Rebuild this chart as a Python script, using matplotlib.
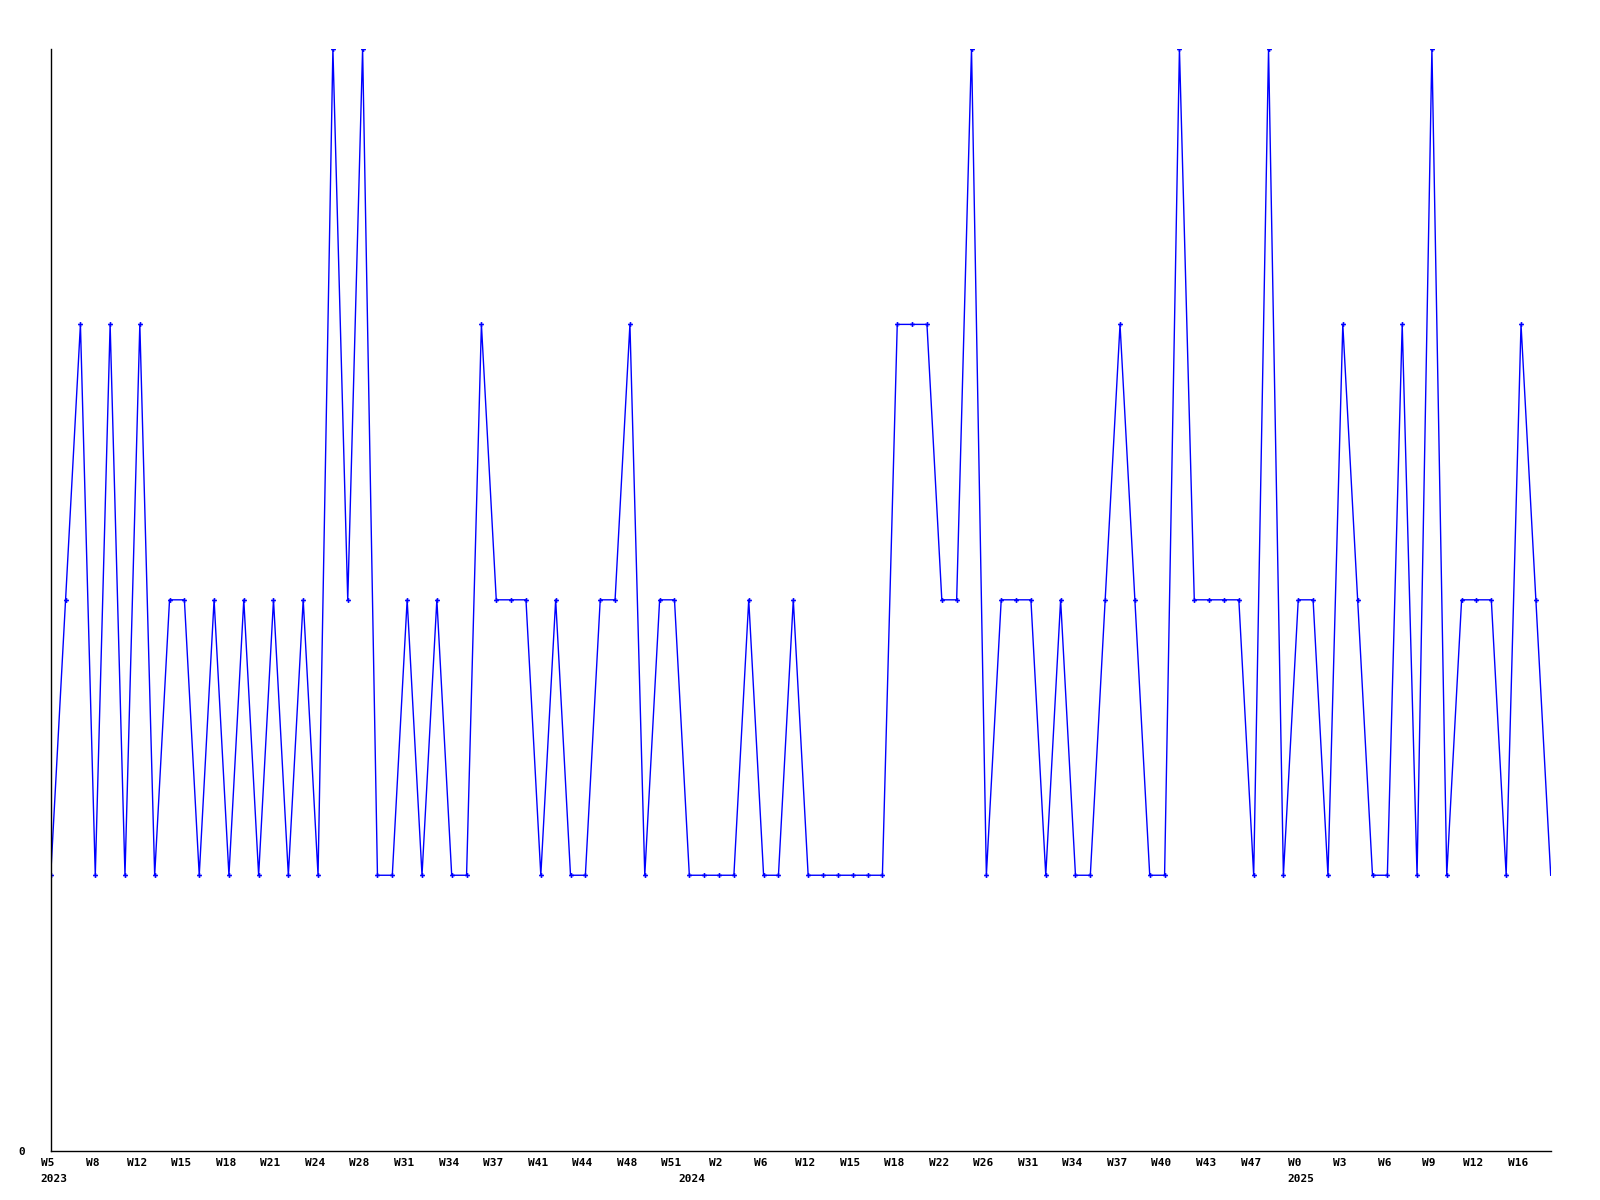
import matplotlib
matplotlib.use("Agg")
import matplotlib.pyplot as plt
from matplotlib.transforms import ScaledTranslation

values = [1, 2, 3, 1, 3, 1, 3, 1, 2, 2, 1, 2, 1, 2, 1, 2, 1, 2, 1, 4,
          2, 4, 1, 1, 2, 1, 2, 1, 1, 3, 2, 2, 2, 1, 2, 1, 1, 2, 2, 3,
          1, 2, 2, 1, 1, 1, 1, 2, 1, 1, 2, 1, 1, 1, 1, 1, 1, 3, 3, 3,
          2, 2, 4, 1, 2, 2, 2, 1, 2, 1, 1, 2, 3, 2, 1, 1, 4, 2, 2, 2,
          2, 1, 4, 1, 2, 2, 1, 3, 2, 1, 1, 3, 1, 4, 1, 2, 2, 2, 1, 3,
          2, 1]

week_labels = ["W5", "W8", "W12", "W15", "W18", "W21", "W24", "W28", "W31", "W34",
               "W37", "W41", "W44", "W48", "W51", "W2", "W6", "W12", "W15", "W18",
               "W22", "W26", "W31", "W34", "W37", "W40", "W43", "W47", "W0", "W3",
               "W6", "W9", "W12", "W16"]
year_labels = ["2023", "2024", "2025"]
year_pos = [0.2, 43.15, 84.2]

x = list(range(len(values)))
tick_pos = list(range(0, 3 * len(week_labels), 3))

fig = plt.figure(figsize=(16, 12), dpi=100)
ax = fig.add_axes([0.0317, 0.0411, 0.9375, 0.9181])

ax.plot(x, values, color="#0000ff", linewidth=1.0, marker="P", markersize=3.5,
        markeredgewidth=0, markevery=list(range(len(values) - 1)))

ax.set_xlim(0, len(values) - 1)
ax.set_ylim(0, 4)

for s in ["top", "right"]:
    ax.spines[s].set_visible(False)
for s in ["left", "bottom"]:
    ax.spines[s].set_color("black")
    ax.spines[s].set_linewidth(1.0)

font = dict(family="DejaVu Sans Mono", weight="bold", size=8)

ax.set_xticks(tick_pos)
ax.set_xticklabels(week_labels, **font)
ax.tick_params(axis="x", length=0, pad=5)
offset = ScaledTranslation(-3 / 100, 0, fig.dpi_scale_trans)
for lbl in ax.get_xticklabels():
    lbl.set_transform(lbl.get_transform() + offset)

ax.set_yticks([0])
ax.set_yticklabels(["0"], **font)
ax.tick_params(axis="y", length=0, pad=20.7)
for lbl in ax.get_yticklabels():
    lbl.set_horizontalalignment("center")

trans = ax.get_xaxis_transform()
for yl, xp in zip(year_labels, year_pos):
    ax.text(xp, -0.026, yl, transform=trans, ha="center", va="center", **font)

fig.savefig("out.png", dpi=100)
